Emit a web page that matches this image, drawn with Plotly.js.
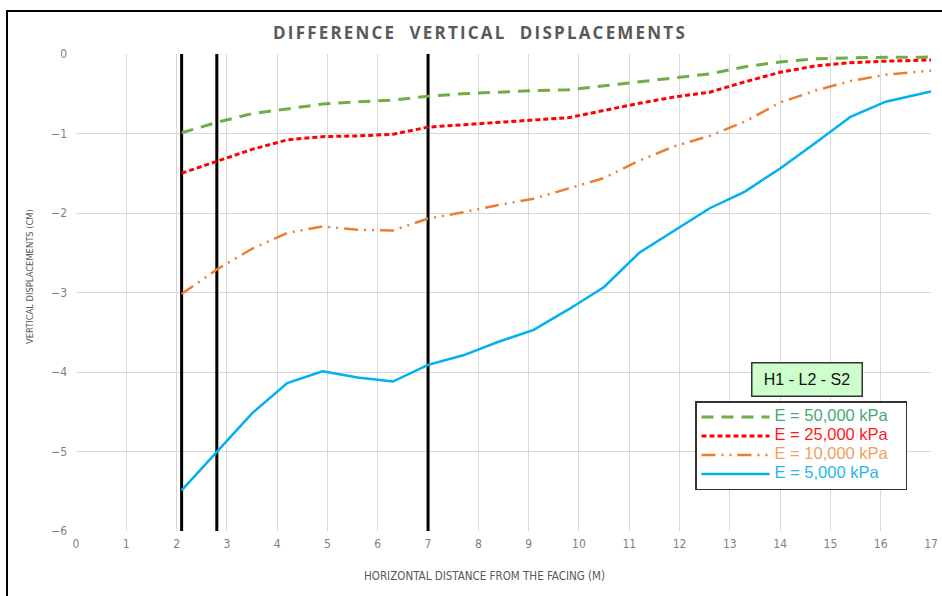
<!DOCTYPE html>
<html><head><meta charset="utf-8">
<script src="https://cdn.plot.ly/plotly-3.0.1.min.js"></script>
<style>html,body{margin:0;padding:0;background:#fff;overflow:hidden}#chart{width:942px;height:596px}
.gtitle{letter-spacing:2.2px}</style>
</head><body><div id="chart"></div>
<script>
// Horizontal distance from the facing (m)
const distance = [2.1, 2.8, 3.5, 4.2, 4.9, 5.6, 6.3, 7.0, 7.7, 8.4, 9.1, 9.8, 10.5, 11.2, 11.9, 12.6, 13.3, 14.0, 14.7, 15.4, 16.1, 16.8, 17.0];
// Vertical displacements (cm)
const dispE50000 = [-0.99, -0.86, -0.75, -0.69, -0.63, -0.60, -0.58, -0.53, -0.50, -0.48, -0.46, -0.45, -0.40, -0.35, -0.30, -0.25, -0.16, -0.10, -0.06, -0.05, -0.04, -0.04, -0.035];
const dispE25000 = [-1.50, -1.35, -1.20, -1.08, -1.04, -1.03, -1.01, -0.92, -0.89, -0.86, -0.83, -0.80, -0.71, -0.62, -0.54, -0.48, -0.35, -0.23, -0.15, -0.11, -0.09, -0.08, -0.075];
const dispE10000 = [-3.02, -2.71, -2.45, -2.25, -2.17, -2.21, -2.22, -2.07, -1.99, -1.90, -1.82, -1.69, -1.56, -1.34, -1.16, -1.03, -0.85, -0.61, -0.46, -0.34, -0.26, -0.22, -0.21];
const dispE5000  = [-5.49, -5.00, -4.52, -4.14, -3.99, -4.07, -4.12, -3.91, -3.79, -3.62, -3.47, -3.21, -2.93, -2.50, -2.22, -1.94, -1.73, -1.44, -1.12, -0.79, -0.60, -0.50, -0.47];
const seriesNames = ["E = 50,000 kPa", "E = 25,000 kPa", "E = 10,000 kPa", "E = 5,000 kPa"];
// Reference vertical lines (m)
const markerLines = [2.1, 2.8, 7.0];
const yRange = [-6, 0];
const xTicks = [0,1,2,3,4,5,6,7,8,9,10,11,12,13,14,15,16,17];
const yTicks = [0,-1,-2,-3,-4,-5,-6];

const vx = [], vy = [];
markerLines.forEach(v => { vx.push(v, v, null); vy.push(yRange[0], yRange[1], null); });

const legendColors = ["#4aa877", "#ff1a1a", "#f0a060", "#28b4ee"];
const lineStyles = [
  {color: "#70ad47", width: 3, dash: "12px,8px"},
  {color: "#ff0000", width: 3, dash: "5px,3px"},
  {color: "#ed7d31", width: 2.5, dash: "14px,6px,2px,6px,2px,6px"},
  {color: "#00b0f0", width: 2.5, dash: "solid"}
];
const series = [dispE50000, dispE25000, dispE10000, dispE5000];

const traces = [{
  x: vx, y: vy, mode: "lines", showlegend: false, hoverinfo: "skip",
  line: {color: "#000", width: 3}
}];
series.forEach((s, i) => traces.push({
  x: distance, y: s, mode: "lines",
  name: '<span style="color:' + legendColors[i] + ';font-size:16.5px">' + seriesNames[i] + '</span>&nbsp;&nbsp;&nbsp;&nbsp;',
  line: lineStyles[i]
}));

const px = p => (p - 76) / 855;
const py = p => (531 - p) / 477;
const narrow = "Liberation Sans Narrow, DejaVu Sans Condensed, sans-serif";
const tickFont = {family: narrow, size: 12, color: "#7f7f7f"};

const layout = {
  width: 942, height: 596,
  margin: {l: 76, r: 11, t: 54, b: 65},
  paper_bgcolor: "#fff", plot_bgcolor: "#fff",
  title: {text: "DIFFERENCE&nbsp; VERTICAL&nbsp; DISPLACEMENTS", x: 480/942, xanchor: "center", y: 1 - 33/596, yanchor: "middle",
          font: {family: "Open Sans, sans-serif", size: 17, color: "#595959", weight: "bold"}},
  xaxis: {range: [0, 17], tickvals: xTicks, ticks: "", showgrid: true, gridcolor: "#d9d9d9", gridwidth: 1,
          zeroline: false, showline: false, tickfont: tickFont, ticklabelstandoff: 4},
  yaxis: {range: yRange, tickvals: yTicks, ticks: "", showgrid: true, gridcolor: "#d9d9d9", gridwidth: 1,
          zeroline: false, showline: false, tickfont: tickFont, ticklabelstandoff: 8},
  showlegend: true,
  legend: {x: px(695), y: py(401), xanchor: "left", yanchor: "top", bgcolor: "#fff", bordercolor: "#333", borderwidth: 1.5,
           font: {family: "Liberation Sans, Arial, sans-serif", size: 11}, itemwidth: 68, tracegroupgap: 0},
  annotations: [{
    xref: "paper", yref: "paper", x: px(807), y: py(379), xanchor: "center", yanchor: "middle",
    text: "H1 - L2 - S2", showarrow: false, width: 107, height: 30,
    font: {family: "Liberation Sans, Arial, sans-serif", size: 16, color: "#111"},
    bgcolor: "#ccffcc", bordercolor: "#333", borderwidth: 1.5, borderpad: 1
  }, {
    xref: "paper", yref: "paper", x: px(484), y: py(576), xanchor: "center", yanchor: "middle",
    text: "HORIZONTAL DISTANCE FROM THE FACING (M)", showarrow: false,
    font: {family: narrow, size: 11.5, color: "#595959"}
  }, {
    xref: "paper", yref: "paper", x: px(29), y: py(277), xanchor: "center", yanchor: "middle", textangle: -90,
    text: "VERTICAL DISPLACEMENTS (CM)", showarrow: false,
    font: {family: narrow, size: 9.3, color: "#595959"}
  }],
  shapes: [{
    type: "rect", xref: "paper", yref: "paper", x0: px(7), x1: px(990), y0: py(640), y1: py(11),
    line: {color: "#000", width: 2}, fillcolor: "rgba(0,0,0,0)", layer: "above"
  }]
};

Plotly.newPlot("chart", traces, layout, {displayModeBar: false, staticPlot: true});
</script>
</body></html>
